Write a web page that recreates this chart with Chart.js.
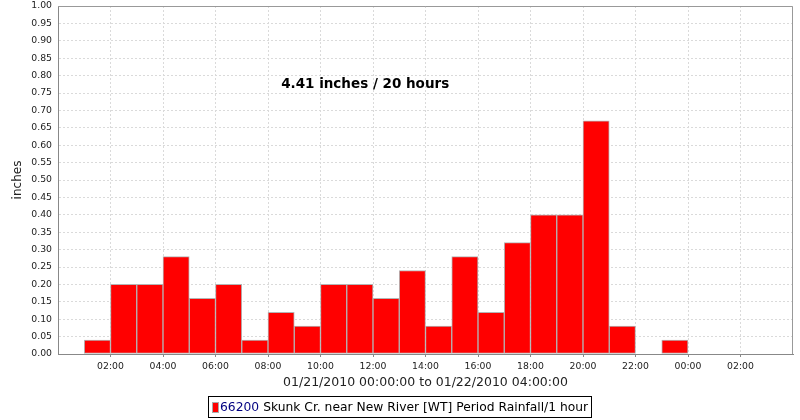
<!DOCTYPE html>
<html>
<head>
<meta charset="utf-8">
<script src="https://cdn.jsdelivr.net/npm/chart.js@4.4.1/dist/chart.umd.min.js"></script>
<style>
  html, body { margin: 0; padding: 0; background: #fff; }
  #wrap { position: relative; width: 800px; height: 420px; }
  #legend {
    position: absolute; left: 208px; top: 396px; width: 382px; height: 20px;
    border: 1px solid #000; box-sizing: content-box;
    font: 12.3px "DejaVu Sans", sans-serif; color: #000;
    display: flex; align-items: center; white-space: nowrap;
  }
  #legend .sw {
    flex: none; display: inline-block; width: 5px; height: 9px; margin: 0 1px 0 3px;
    background: #ff0000; border: 1px solid #aaa;
  }
  #legend .id { color: #000080; margin-right: 4px; }
</style>
</head>
<body>
<div id="wrap">
  <canvas id="chart-rain" width="800" height="420"></canvas>
  <div id="legend"></div>
</div>
<script>
// hourly rainfall, 01/21/2010 (hour 1 = 01:00-02:00)
const hourStarts = [1, 2, 3, 4, 5, 6, 7, 8, 9, 10, 11, 12, 13, 14, 15, 16, 17, 18, 19, 20, 21, 22, 23];
const rainfall = [0.04, 0.20, 0.20, 0.28, 0.16, 0.20, 0.04, 0.12, 0.08, 0.20, 0.20, 0.16,
                  0.24, 0.08, 0.28, 0.12, 0.32, 0.40, 0.40, 0.67, 0.08, 0, 0.04];
const xTickHours = [2, 4, 6, 8, 10, 12, 14, 16, 18, 20, 22, 24, 26];
const seriesId = '66200';
const seriesLabel = 'Skunk Cr. near New River [WT] Period Rainfall/1 hour';
const xTitle = '01/21/2010 00:00:00 to 01/22/2010 04:00:00';
const yTitle = 'inches';
const summaryText = '4.41 inches / 20 hours';

const FONT = '"DejaVu Sans", sans-serif';

// plot frame (top/right edges) and the summary text inside the plot
const framePlugin = {
  id: 'frame',
  afterDraw(chart) {
    const { ctx, chartArea: a, scales } = chart;
    ctx.save();
    ctx.strokeStyle = '#999';
    ctx.lineWidth = 1;
    ctx.beginPath();
    ctx.moveTo(a.left, a.top + 0.5);
    ctx.lineTo(a.right - 0.5, a.top + 0.5);
    ctx.lineTo(a.right - 0.5, a.bottom);
    ctx.stroke();

    ctx.fillStyle = '#000';
    ctx.font = 'bold 13.5px ' + FONT;
    ctx.textBaseline = 'middle';
    ctx.textAlign = 'left';
    ctx.fillText(summaryText, scales.x.getPixelForValue(8.5), scales.y.getPixelForValue(0.775));
    ctx.restore();
  }
};

const canvas = document.getElementById('chart-rain');
const chart = new Chart(canvas.getContext('2d'), {
  type: 'bar',
  data: {
    datasets: [{
      label: seriesId + ' ' + seriesLabel,
      data: hourStarts.map((h, i) => ({ x: h + 0.5, y: rainfall[i] })),
      backgroundColor: '#ff0000',
      borderColor: '#b4b4b4',
      borderWidth: 1,
      borderSkipped: false,
      barPercentage: 1,
      categoryPercentage: 1
    }]
  },
  options: {
    responsive: false,
    animation: false,
    layout: { padding: { left: 0, right: 7, top: 6, bottom: 0 } },
    plugins: {
      legend: { display: false },
      tooltip: { enabled: false }
    },
    scales: {
      x: {
        type: 'linear',
        min: 0,
        max: 28,
        offset: false,
        afterBuildTicks: scale => {
          scale.ticks = xTickHours.map(v => ({ value: v }));
        },
        afterFit: scale => {
          scale.height = 66;
          scale.paddingLeft = 0;
          scale.paddingRight = 0;
        },
        ticks: {
          color: '#222',
          font: { family: FONT, size: 9.3 },
          padding: 4,
          maxRotation: 0,
          autoSkip: false,
          callback: v => String(v % 24).padStart(2, '0') + ':00'
        },
        grid: {
          offset: false,
          color: '#dadada',
          tickColor: '#888',
          tickLength: 3,
          tickBorderDash: []
        },
        border: { color: '#888', width: 1, dash: [2, 2] },
        title: {
          display: true,
          text: xTitle,
          color: '#222',
          font: { family: FONT, size: 12.5 },
          padding: { top: 0, bottom: 30 }
        }
      },
      y: {
        min: 0,
        max: 1,
        afterFit: scale => {
          scale.width = 58;
          scale.paddingTop = 0;
          scale.paddingBottom = 0;
        },
        ticks: {
          stepSize: 0.05,
          color: '#222',
          font: { family: FONT, size: 9.3 },
          padding: 6,
          callback: v => v.toFixed(2)
        },
        grid: {
          color: '#dadada',
          drawTicks: false
        },
        border: { color: '#888', width: 1, dash: [2, 2] },
        title: {
          display: true,
          text: yTitle,
          color: '#222',
          font: { family: FONT, size: 12 },
          padding: { top: 11, bottom: 0 }
        }
      }
    }
  },
  plugins: [framePlugin]
});

// legend box below the axis
const legend = document.getElementById('legend');
legend.innerHTML = '<span class="sw"></span><span class="id">' + seriesId + '</span><span>' + seriesLabel + '</span>';
</script>
</body>
</html>
